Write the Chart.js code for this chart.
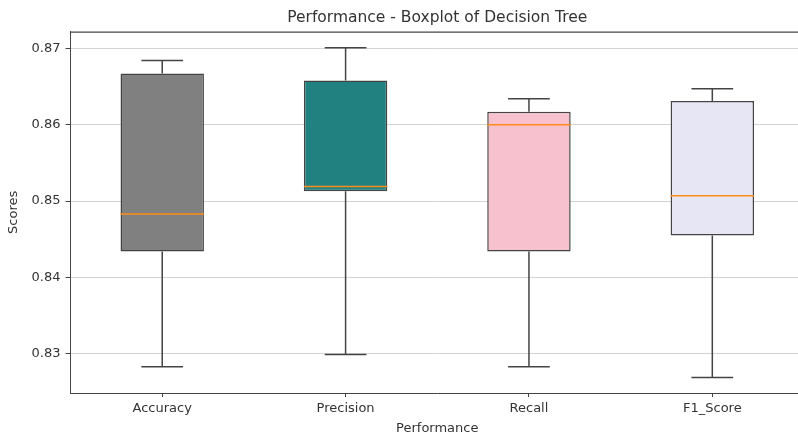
<!DOCTYPE html>
<html>
<head>
<meta charset="utf-8">
<script src="https://cdn.jsdelivr.net/npm/chart.js@4.4.1/dist/chart.umd.min.js"></script>
<style>
  html, body { margin: 0; padding: 0; background: #fff; overflow: hidden; width: 798px; height: 434px; }
  #wrap { width: 806px; height: 436px; position: relative; }
</style>
</head>
<body>
<div id="wrap"><canvas id="c"></canvas></div>
<script>
// ---- data ----
const categories = ['Accuracy', 'Precision', 'Recall', 'F1_Score'];
const whiskerLow  = [0.8283, 0.8299, 0.8283, 0.8269];
const q1          = [0.8434, 0.8513, 0.8434, 0.8455];
const median      = [0.8483, 0.8519, 0.8600, 0.8507];
const q3          = [0.8667, 0.8658, 0.8617, 0.8631];
const whiskerHigh = [0.8684, 0.8701, 0.8634, 0.8647];
const boxColors   = ['#808080', '#218080', '#f7c1cd', '#e6e6f5'];
const yTicks      = [0.83, 0.84, 0.85, 0.86, 0.87];

const FONT = "'DejaVu Sans', sans-serif";
const TEXT = '#333333';
const EDGE = '#444444';

const boxPlugin = {
  id: 'boxExtras',
  afterLayout(chart) {
    // centre the title over the plotting area, as matplotlib does
    if (chart.titleBlock) {
      chart.titleBlock.left = chart.chartArea.left;
      chart.titleBlock.right = chart.chartArea.right;
    }
  },
  afterDatasetsDraw(chart) {
    const ctx = chart.ctx, x = chart.scales.x, y = chart.scales.y;
    const meta = chart.getDatasetMeta(0);
    ctx.save();
    categories.forEach((c, i) => {
      const cx = x.getPixelForValue(i);
      const bw = meta.data[i].width;
      const capHalf = bw / 4;
      ctx.strokeStyle = EDGE;
      ctx.lineWidth = 1.5;
      ctx.beginPath();
      ctx.moveTo(cx, y.getPixelForValue(q3[i]));
      ctx.lineTo(cx, y.getPixelForValue(whiskerHigh[i]));
      ctx.moveTo(cx - capHalf, y.getPixelForValue(whiskerHigh[i]));
      ctx.lineTo(cx + capHalf, y.getPixelForValue(whiskerHigh[i]));
      ctx.moveTo(cx, y.getPixelForValue(q1[i]));
      ctx.lineTo(cx, y.getPixelForValue(whiskerLow[i]));
      ctx.moveTo(cx - capHalf, y.getPixelForValue(whiskerLow[i]));
      ctx.lineTo(cx + capHalf, y.getPixelForValue(whiskerLow[i]));
      ctx.stroke();
      ctx.strokeStyle = '#ff8c1a';
      ctx.lineWidth = 1.5;
      ctx.beginPath();
      ctx.moveTo(cx - bw / 2, y.getPixelForValue(median[i]));
      ctx.lineTo(cx + bw / 2, y.getPixelForValue(median[i]));
      ctx.stroke();
    });
    // top spine
    const a = chart.chartArea;
    ctx.strokeStyle = '#444444';
    ctx.lineWidth = 1.2;
    ctx.beginPath();
    ctx.moveTo(a.left, a.top + 0.5);
    ctx.lineTo(a.right, a.top + 0.5);
    ctx.stroke();
    ctx.restore();
  }
};

new Chart(document.getElementById('c'), {
  type: 'bar',
  data: {
    labels: categories,
    datasets: [{
      data: categories.map((c, i) => [q1[i], q3[i]]),
      backgroundColor: boxColors,
      borderColor: EDGE,
      borderWidth: 1.5,
      borderSkipped: false,
      categoryPercentage: 1,
      barPercentage: 0.455
    }]
  },
  options: {
    responsive: true,
    maintainAspectRatio: false,
    animation: false,
    layout: { padding: { left: 6, right: 2, top: 0, bottom: 0 } },
    plugins: {
      legend: { display: false },
      tooltip: { enabled: false },
      title: {
        display: true,
        text: 'Performance - Boxplot of Decision Tree',
        color: TEXT,
        font: { family: FONT, size: 15.5, weight: 'normal', lineHeight: 1.2 },
        padding: { top: 9, bottom: 4 }
      }
    },
    scales: {
      x: {
        offset: true,
        grid: { display: true, drawOnChartArea: false, drawTicks: true, tickLength: 4, offset: false, tickColor: '#444' },
        border: { display: true, color: '#444', width: 1 },
        ticks: { color: TEXT, font: { family: FONT, size: 13 }, padding: 4 },
        title: { display: true, text: 'Performance', color: TEXT, font: { family: FONT, size: 13, lineHeight: 1.1 }, padding: { top: 1, bottom: 0 } }
      },
      y: {
        min: 0.82485,
        max: 0.8722,
        afterBuildTicks(scale) { scale.ticks = yTicks.map(v => ({ value: v })); },
        grid: { color: '#d3d3d3', lineWidth: 1, drawTicks: true, tickLength: 5, tickColor: '#444' },
        border: { display: true, color: '#444', width: 1 },
        ticks: { color: TEXT, font: { family: FONT, size: 13 }, padding: 5, callback: v => Number(v).toFixed(2) },
        title: { display: true, text: 'Scores', color: TEXT, font: { family: FONT, size: 13 }, padding: { top: 0, bottom: 5 } }
      }
    }
  },
  plugins: [boxPlugin]
});
</script>
</body>
</html>
